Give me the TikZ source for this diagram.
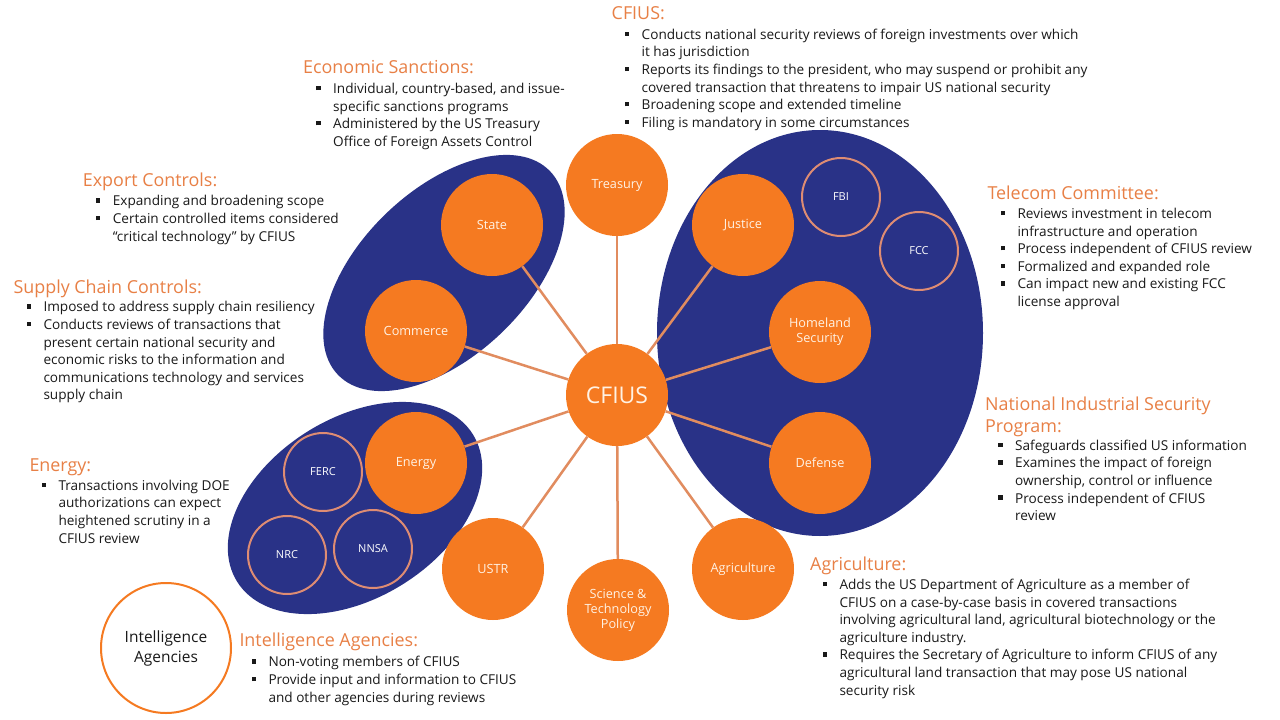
\documentclass[tikz,border=0pt]{standalone}
\usepackage{fontspec}
\setmainfont{Open Sans}
\definecolor{navy}{RGB}{41,50,135}
\definecolor{orng}{RGB}{245,122,33}
\definecolor{hdor}{RGB}{232,128,70}
\definecolor{lnor}{RGB}{225,140,95}
\definecolor{ringc}{RGB}{222,140,115}
\definecolor{cream}{RGB}{255,242,228}
\definecolor{txt}{RGB}{25,25,25}
\newcommand{\bi}{\makebox[17pt][l]{\raisebox{3.3pt}{\rule{4.3pt}{4.3pt}}}}
\begin{document}
\begin{tikzpicture}[x=1pt,y=-1pt,
  org/.style={circle, fill=orng, draw=none, minimum size=102pt, inner sep=0pt, text=cream, font=\fontsize{12.7}{15}\selectfont, align=center},
  ringnode/.style={circle, fill=navy, draw=ringc, line width=2pt, minimum size=78pt, inner sep=0pt, text=white, font=\fontsize{11}{13}\selectfont},
  intelnode/.style={circle, fill=white, draw=orng, line width=2pt, minimum size=130pt, inner sep=0pt, text=txt, font=\fontsize{15.5}{20}\selectfont, align=center},
  link/.style={draw=lnor, line width=2.5pt},
  hd/.style={anchor=base west, inner sep=0pt, text=hdor, font=\fontsize{17.9}{22.7}\selectfont},
  bodytext/.style={anchor=north west, inner sep=0pt, text=txt, font=\fontsize{13.6}{17.6}\selectfont}
]
\useasboundingbox (0,0) rectangle (1280,720);
\fill[white] (0,0) rectangle (1280,720);

% group ellipses
\fill[navy, rotate around={43.8:(444,273)}] (444,273) ellipse [x radius=147pt, y radius=83pt];
\fill[navy] (820,333) ellipse [x radius=163pt, y radius=203pt];
\fill[navy, rotate around={32:(355,508)}] (355,508) ellipse [x radius=139pt, y radius=90pt];

% agency circles
\node[org, font=\fontsize{23}{26}\selectfont] (cfius) at (617,395) {CFIUS};
\node[org] (treasury) at (617,185) {Treasury};
\node[org] (state) at (492,225) {State};
\node[org] (commerce) at (416,331) {Commerce};
\node[org] (justice) at (743,225) {Justice};
\node[org] (homeland) at (820,332) {Homeland\\Security};
\node[org] (defense) at (820,463) {Defense};
\node[org] (energy) at (416,463) {Energy};
\node[org] (ustr) at (493,569) {USTR};
\node[org] (science) at (618,610) {Science \&\\Technology\\Policy};
\node[org] (agri) at (743,569) {Agriculture};
\node[ringnode] (fbi) at (841,197) {FBI};
\node[ringnode] (fcc) at (919,251) {FCC};
\node[ringnode] (ferc) at (323,472) {FERC};
\node[ringnode] (nrc) at (287,555) {NRC};
\node[ringnode] (nnsa) at (373,549) {NNSA};
\node[intelnode] (intel) at (166,648) {Intelligence\\Agencies};

\foreach \t in {treasury,state,commerce,justice,homeland,defense,energy,ustr,science,agri}
  \draw[link] (cfius) -- (\t);

% CFIUS
\node[hd] (h1) at (611.5,19.3) {CFIUS:};
\node[bodytext] (b1) at (624.5,26.7) {\begin{tabular}{@{}l@{}l@{}}
\bi & Conducts national security reviews of foreign investments over which\\
 & it has jurisdiction\\
\bi & Reports its findings to the president, who may suspend or prohibit any\\
 & covered transaction that threatens to impair US national security\\
\bi & Broadening scope and extended timeline\\
\bi & Filing is mandatory in some circumstances
\end{tabular}};

% Economic Sanctions
\node[hd] (h2) at (303,73.3) {Economic Sanctions:};
\node[bodytext] (b2) at (316,81) {\begin{tabular}{@{}l@{}l@{}}
\bi & Individual, country-based, and issue-\\
 & specific sanctions programs\\
\bi & Administered by the US Treasury\\
 & Office of Foreign Assets Control
\end{tabular}};

% Export Controls
\node[hd] (h3) at (82.7,186.7) {Export Controls:};
\node[bodytext] (b3) at (95.7,193.4) {\begin{tabular}{@{}l@{}l@{}}
\bi & Expanding and broadening scope\\
\bi & Certain controlled items considered\\
 & “critical technology” by CFIUS
\end{tabular}};

% Supply Chain Controls
\node[hd] (h4) at (13.3,293.3) {Supply Chain Controls:};
\node[bodytext] (b4) at (26.3,299.4) {\begin{tabular}{@{}l@{}l@{}}
\bi & Imposed to address supply chain resiliency\\
\bi & Conducts reviews of transactions that\\
 & present certain national security and\\
 & economic risks to the information and\\
 & communications technology and services\\
 & supply chain
\end{tabular}};

% Energy
\node[hd] (h5) at (29.3,471.7) {Energy:};
\node[bodytext] (b5) at (41.3,477.7) {\begin{tabular}{@{}l@{}l@{}}
\bi & Transactions involving DOE\\
 & authorizations can expect\\
 & heightened scrutiny in a\\
 & CFIUS review
\end{tabular}};

% Intelligence Agencies
\node[hd] (h6) at (239.3,646.7) {Intelligence Agencies:};
\node[bodytext] (b6) at (251.3,654.4) {\begin{tabular}{@{}l@{}l@{}}
\bi & Non-voting members of CFIUS\\
\bi & Provide input and information to CFIUS\\
 & and other agencies during reviews
\end{tabular}};

% Agriculture
\node[hd] (h7) at (810,570.7) {Agriculture:};
\node[bodytext] (b7) at (822.3,577) {\begin{tabular}{@{}l@{}l@{}}
\bi & Adds the US Department of Agriculture as a member of\\
 & CFIUS on a case-by-case basis in covered transactions\\
 & involving agricultural land, agricultural biotechnology or the\\
 & agriculture industry.\\
\bi & Requires the Secretary of Agriculture to inform CFIUS of any\\
 & agricultural land transaction that may pose US national\\
 & security risk
\end{tabular}};

% Telecom Committee
\node[hd] (h8) at (987.3,199.3) {Telecom Committee:};
\node[bodytext] (b8) at (1000.3,206) {\begin{tabular}{@{}l@{}l@{}}
\bi & Reviews investment in telecom\\
 & infrastructure and operation\\
\bi & Process independent of CFIUS review\\
\bi & Formalized and expanded role\\
\bi & Can impact new and existing FCC\\
 & license approval
\end{tabular}};

% National Industrial Security Program
\node[anchor=north west, inner sep=0pt, text=hdor, font=\fontsize{17.9}{22.7}\selectfont] (h9) at (985,394.1) {\begin{tabular}{@{}l@{}}National Industrial Security\\ Program:\end{tabular}};
\node[bodytext] (b9) at (998,437.7) {\begin{tabular}{@{}l@{}l@{}}
\bi & Safeguards classified US information\\
\bi & Examines the impact of foreign\\
 & ownership, control or influence\\
\bi & Process independent of CFIUS\\
 & review
\end{tabular}};
\end{tikzpicture}
\end{document}
